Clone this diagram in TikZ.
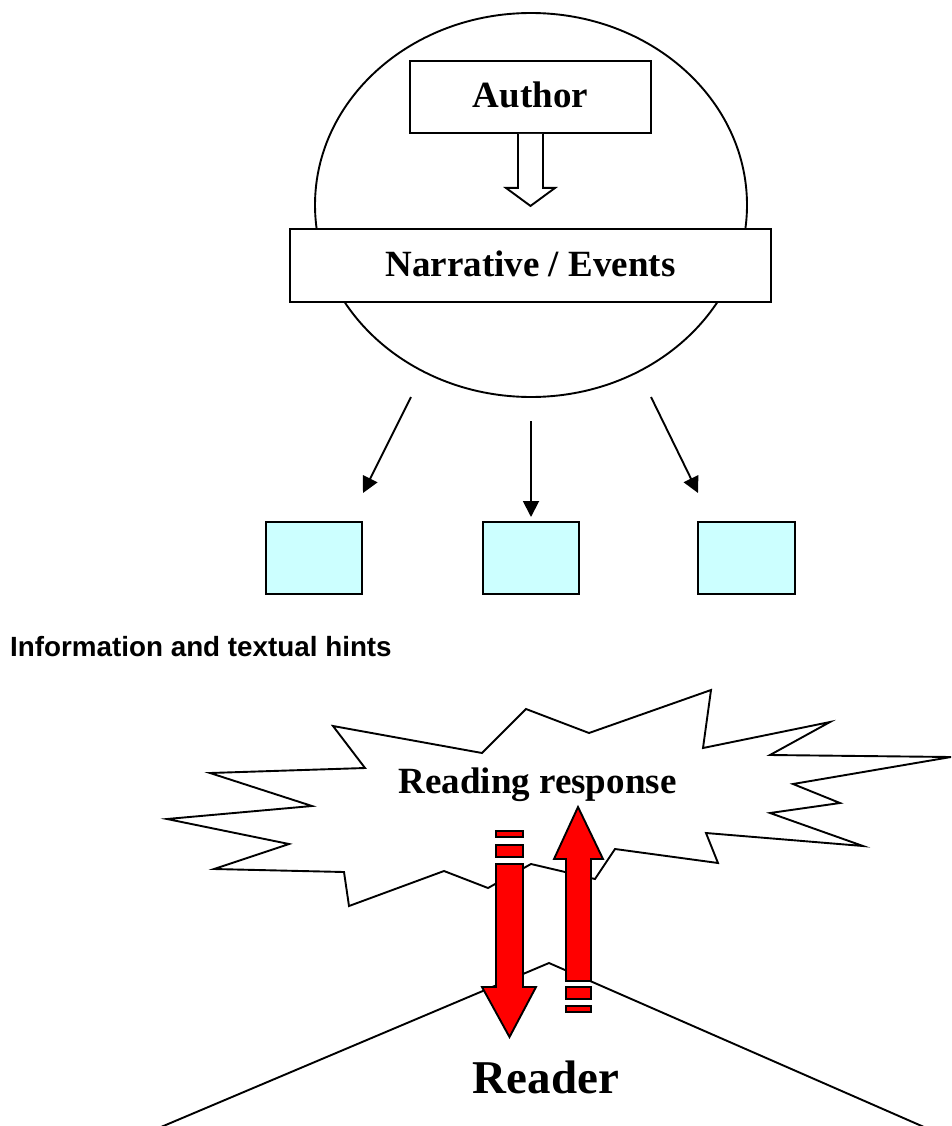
\documentclass[tikz,border=0pt]{standalone}
\usepackage{fontspec}
\setmainfont{Liberation Serif}
\newfontfamily\arialfont{Liberation Sans}
\usetikzlibrary{shapes.geometric,arrows.meta}
\definecolor{boxcyan}{HTML}{CCFFFF}
\definecolor{arrowred}{HTML}{FF0000}
\begin{document}
\begin{tikzpicture}[x=1pt,y=-1pt,
  frame/.style={draw=black,line width=1.9pt,fill=white,inner sep=0pt},
  labelbox/.style={frame,rectangle,font=\bfseries\fontsize{37}{40}\selectfont,text height=24.5pt,text depth=3pt},
  infobox/.style={draw=black,line width=1.9pt,fill=boxcyan,rectangle,inner sep=0pt,minimum width=96pt,minimum height=72pt},
  thinarrow/.style={draw=black,line width=1.9pt,-{Triangle[length=16pt,width=16pt]}},
  redarrow/.style={draw=black,line width=1.9pt,fill=arrowred,line join=miter},
  bigtext/.style={font=\bfseries\fontsize{37}{40}\selectfont,inner sep=0pt}
]
\useasboundingbox (0,0) rectangle (952,1126);

% top ellipse with author and narrative
\node[frame,ellipse,minimum width=432pt,minimum height=384pt] (circ) at (531,205) {};
\node[labelbox,minimum width=481pt,minimum height=73pt] (narr) at (530.5,265.5) {Narrative / Events};
\node[labelbox,minimum width=241pt,minimum height=72pt] (auth) at (530.5,97) {Author};
\draw[frame,line join=miter] ([xshift=-12.5pt]auth.south) -- ++(0,54) -- ++(-12,0) -- ++(24.5,18)
  -- ++(24.5,-18) -- ++(-12,0) -- ([xshift=12.5pt]auth.south);

% three thin arrows and boxes
\coordinate (s1) at (411,397); \coordinate (t1) at (363,493);
\coordinate (s2) at (531,421); \coordinate (t2) at (531,517);
\coordinate (s3) at (651,397); \coordinate (t3) at (698,493);
\draw[thinarrow] (s1) -- (t1);
\draw[thinarrow] (s2) -- (t2);
\draw[thinarrow] (s3) -- (t3);
\node[infobox] (b1) at (314,558) {};
\node[infobox] (b2) at (531,558) {};
\node[infobox,minimum width=97pt] (b3) at (746.5,558) {};

\node[anchor=base west,inner sep=0pt,font=\arialfont\bfseries\fontsize{27.8}{30}\selectfont] (info) at (10,656) {Information and textual hints};

% explosion
\draw[line width=1.9pt,fill=white,line join=miter]
  (333,726) -- (482,753) -- (526,709) -- (589,733) -- (711,690) -- (703,748)
  -- (830,722) -- (770,755) -- (951,757) -- (793,784) -- (840,803) -- (770,813)
  -- (863,846) -- (706,833) -- (718,863) -- (615,849) -- (595,879) -- (531,864)
  -- (488,888) -- (444,871) -- (349,906) -- (344,872) -- (214,869) -- (289,844)
  -- (167,819) -- (312,806) -- (210,773) -- (365,768) -- cycle;
\node[bigtext,anchor=base] (resp) at (537.5,793) {Reading response};

% reader triangle
\coordinate (apex) at (549,963);
\coordinate (bl) at (161,1127);
\coordinate (br) at (924,1127);
\draw[line width=1.9pt] (bl) -- (apex) -- (br);
\node[font=\bfseries\fontsize{47}{50}\selectfont,inner sep=0pt,anchor=base] (reader) at (546,1093) {Reader};

% red arrows
\draw[redarrow] (496,864) -- (523,864) -- (523,987) -- (536,987) -- (509.5,1037) -- (482,987) -- (496,987) -- cycle;
\draw[redarrow] (496,845) rectangle (523,857);
\draw[redarrow] (496,831) rectangle (523,837);
\draw[redarrow] (566,981) -- (591,981) -- (591,859) -- (603,859) -- (578,807) -- (554,859) -- (566,859) -- cycle;
\draw[redarrow] (566,987) rectangle (591,999);
\draw[redarrow] (566,1006) rectangle (591,1012);
\end{tikzpicture}
\end{document}
